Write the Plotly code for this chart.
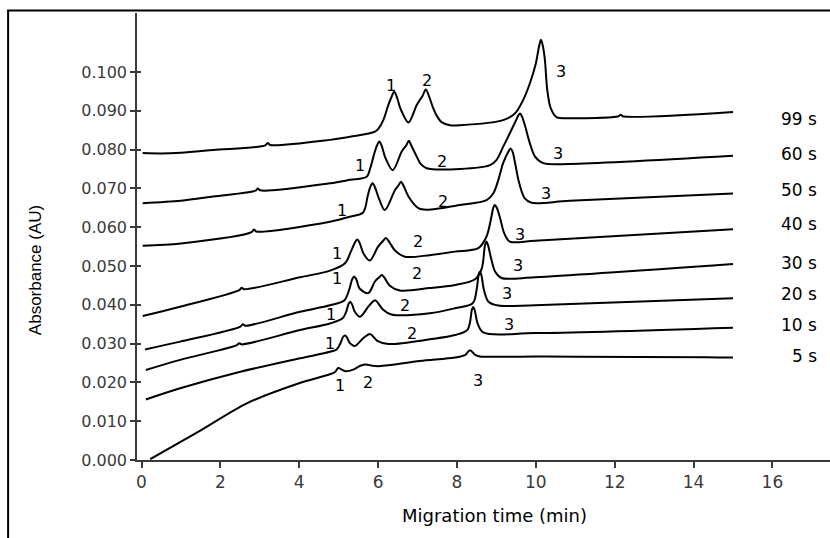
import plotly.graph_objects as go

# ---- data (migration time in min, absorbance in AU) ----
samples = ["5 s", "10 s", "20 s", "30 s", "40 s", "50 s", "60 s", "99 s"]

t_5 = [0.22, 1.48, 2.67, 3.94, 4.78, 4.90, 4.99, 5.08, 5.16, 5.37, 5.55, 5.70, 5.85, 6.05, 7.06, 7.95, 8.20, 8.33, 8.46, 8.58, 9.98, 11.03, 14.33, 15.0]
a_5 = [0.0002, 0.0075, 0.0146, 0.0196, 0.0221, 0.0226, 0.0237, 0.0233, 0.0229, 0.0233, 0.0243, 0.0246, 0.0243, 0.0242, 0.0255, 0.0264, 0.0270, 0.0283, 0.0271, 0.0267, 0.0267, 0.0266, 0.0265, 0.0264]

t_10 = [0.11, 0.98, 2.41, 4.02, 4.78, 4.95, 5.05, 5.11, 5.16, 5.21, 5.28, 5.41, 5.62, 5.73, 5.79, 5.85, 5.98, 6.26, 7.31, 7.95, 8.27, 8.38, 8.41, 8.45, 8.53, 8.68, 9.98, 15.0]
a_10 = [0.0156, 0.0185, 0.0225, 0.0262, 0.0279, 0.0285, 0.0302, 0.0317, 0.0321, 0.0316, 0.0302, 0.0294, 0.0314, 0.0322, 0.0325, 0.0321, 0.0307, 0.0299, 0.0311, 0.0322, 0.0336, 0.0388, 0.0394, 0.0386, 0.0350, 0.0328, 0.0327, 0.0341]

t_20 = [0.11, 0.98, 2.42, 2.48, 2.54, 4.02, 4.78, 5.10, 5.19, 5.25, 5.29, 5.34, 5.41, 5.54, 5.75, 5.86, 5.92, 5.98, 6.12, 6.34, 7.31, 7.95, 8.40, 8.50, 8.55, 8.58, 8.62, 8.68, 8.80, 9.05, 9.98, 15.0]
a_20 = [0.0232, 0.0258, 0.0296, 0.0301, 0.0298, 0.0335, 0.0352, 0.0365, 0.0382, 0.0402, 0.0408, 0.0401, 0.0382, 0.0369, 0.0395, 0.0408, 0.0412, 0.0407, 0.0388, 0.0375, 0.0378, 0.0391, 0.0404, 0.0440, 0.0478, 0.0485, 0.0476, 0.0440, 0.0408, 0.0398, 0.0399, 0.0417]

t_30 = [0.09, 0.98, 2.51, 2.57, 2.63, 4.02, 4.78, 5.14, 5.27, 5.34, 5.39, 5.45, 5.53, 5.75, 5.92, 6.03, 6.09, 6.16, 6.29, 6.55, 7.31, 7.95, 8.46, 8.63, 8.71, 8.75, 8.79, 8.86, 8.97, 9.13, 9.98, 15.0]
a_30 = [0.0285, 0.0305, 0.0344, 0.0350, 0.0346, 0.0382, 0.0399, 0.0411, 0.0440, 0.0465, 0.0473, 0.0465, 0.0442, 0.0430, 0.0460, 0.0471, 0.0477, 0.0470, 0.0450, 0.0437, 0.0443, 0.0451, 0.0466, 0.0494, 0.0553, 0.0563, 0.0553, 0.0522, 0.0485, 0.0469, 0.0471, 0.0505]

t_40 = [0.03, 0.98, 2.48, 2.54, 2.60, 4.02, 4.78, 5.16, 5.30, 5.41, 5.47, 5.53, 5.63, 5.79, 6.00, 6.13, 6.20, 6.27, 6.43, 6.68, 7.31, 7.95, 8.54, 8.75, 8.88, 8.92, 8.96, 9.01, 9.09, 9.20, 9.34, 9.98, 15.0]
a_40 = [0.0371, 0.0395, 0.0438, 0.0444, 0.0440, 0.0471, 0.0488, 0.0507, 0.0535, 0.0560, 0.0568, 0.0560, 0.0532, 0.0514, 0.0550, 0.0565, 0.0572, 0.0564, 0.0540, 0.0524, 0.0528, 0.0537, 0.0546, 0.0576, 0.0630, 0.0650, 0.0657, 0.0650, 0.0625, 0.0584, 0.0563, 0.0565, 0.0595]

t_50 = [0.03, 1.0, 2.79, 2.85, 2.91, 4.78, 5.29, 5.62, 5.74, 5.80, 5.86, 5.92, 6.01, 6.17, 6.42, 6.52, 6.58, 6.64, 6.77, 7.02, 7.23, 8.08, 8.75, 8.92, 9.05, 9.17, 9.31, 9.36, 9.41, 9.48, 9.58, 9.72, 9.89, 10.86, 15.0]
a_50 = [0.0552, 0.0558, 0.0587, 0.0594, 0.0589, 0.0614, 0.0627, 0.0638, 0.0682, 0.0703, 0.0713, 0.0703, 0.0677, 0.0644, 0.0694, 0.0708, 0.0717, 0.0708, 0.0679, 0.0649, 0.0645, 0.0657, 0.0670, 0.0687, 0.0722, 0.0765, 0.0796, 0.0803, 0.0795, 0.0762, 0.0713, 0.0674, 0.0663, 0.0668, 0.0687]

t_60 = [0.03, 1.0, 1.82, 2.89, 2.95, 3.01, 4.78, 5.29, 5.71, 5.80, 5.89, 5.97, 6.03, 6.09, 6.18, 6.37, 6.60, 6.72, 6.78, 6.84, 6.98, 7.08, 7.23, 8.08, 8.84, 9.00, 9.17, 9.34, 9.50, 9.55, 9.60, 9.65, 9.73, 9.85, 9.98, 10.19, 10.86, 15.0]
a_60 = [0.0662, 0.0668, 0.0679, 0.0694, 0.0700, 0.0695, 0.0713, 0.0722, 0.0730, 0.0752, 0.0785, 0.0810, 0.0821, 0.0810, 0.0780, 0.0747, 0.0795, 0.0812, 0.0823, 0.0811, 0.0782, 0.0763, 0.0752, 0.0750, 0.0760, 0.0773, 0.0807, 0.0842, 0.0876, 0.0887, 0.0893, 0.0885, 0.0860, 0.0816, 0.0782, 0.0765, 0.0763, 0.0784]

t_99 = [0.03, 0.5, 1.0, 1.82, 3.14, 3.20, 3.26, 4.78, 5.29, 5.92, 6.03, 6.14, 6.26, 6.33, 6.41, 6.49, 6.57, 6.77, 6.98, 7.13, 7.21, 7.29, 7.40, 7.50, 7.62, 7.82, 8.08, 9.17, 9.47, 9.68, 9.85, 10.00, 10.08, 10.13, 10.18, 10.23, 10.29, 10.38, 10.53, 10.86, 12.10, 12.15, 12.20, 15.0]
a_99 = [0.0791, 0.0790, 0.0792, 0.0799, 0.0811, 0.0817, 0.0812, 0.0825, 0.0833, 0.0846, 0.0857, 0.0878, 0.0915, 0.0933, 0.0949, 0.0931, 0.0905, 0.0870, 0.0915, 0.0939, 0.0955, 0.0938, 0.0906, 0.0885, 0.0870, 0.0863, 0.0863, 0.0876, 0.0893, 0.0928, 0.0971, 0.1022, 0.1065, 0.1083, 0.1066, 0.1031, 0.0954, 0.0906, 0.0883, 0.0881, 0.0886, 0.0890, 0.0886, 0.0897]

times = [t_5, t_10, t_20, t_30, t_40, t_50, t_60, t_99]
absorb = [a_5, a_10, a_20, a_30, a_40, a_50, a_60, a_99]

# sample label positions (right-aligned) and peak-number label positions
sample_label_x = 17.18
sample_label_y = [0.0267, 0.0348, 0.0428, 0.0509, 0.0608, 0.0696, 0.0789, 0.0879]

peak_names = ["1", "2", "3"]
peak_x = [
    [5.03, 5.75, 8.54],
    [4.78, 6.85, 9.33],
    [4.80, 6.68, 9.27],
    [4.95, 6.98, 9.55],
    [4.95, 7.02, 9.60],
    [5.09, 7.65, 10.27],
    [5.54, 7.61, 10.57],
    [6.32, 7.25, 10.63],
]
peak_y = [
    [0.0193, 0.0199, 0.0204],
    [0.0299, 0.0327, 0.0348],
    [0.0374, 0.0399, 0.0428],
    [0.0468, 0.0481, 0.0500],
    [0.0533, 0.0563, 0.0580],
    [0.0643, 0.0666, 0.0687],
    [0.0758, 0.0769, 0.0789],
    [0.0966, 0.0978, 0.1001],
]

x_ticks = [0, 2, 4, 6, 8, 10, 12, 14, 16]
y_ticks = [0.000, 0.010, 0.020, 0.030, 0.040, 0.050, 0.060, 0.070, 0.080, 0.090, 0.100]

X_RANGE = [-0.114, 17.46]
Y_RANGE = [0.0, 0.1152]

fig = go.Figure()

for name, tx, ay in zip(samples, times, absorb):
    fig.add_trace(go.Scatter(
        x=tx, y=ay, mode="lines", name=name,
        line=dict(color="black", width=2, shape="spline", smoothing=0.9),
        showlegend=False, hoverinfo="skip",
    ))

annotations = []
for name, y in zip(samples, sample_label_y):
    annotations.append(dict(x=sample_label_x, y=y, xref="x", yref="y", text=name,
                            showarrow=False, xanchor="right", yanchor="middle",
                            font=dict(family="DejaVu Sans", size=17, color="black")))
for xs, ys in zip(peak_x, peak_y):
    for lab, px, py in zip(peak_names, xs, ys):
        annotations.append(dict(x=px, y=py, xref="x", yref="y", text=lab,
                                showarrow=False, xanchor="center", yanchor="middle",
                                font=dict(family="DejaVu Sans", size=16, color="black")))

annotations.append(dict(x=-0.147, y=0.425, xref="paper", yref="paper", text="Absorbance (AU)",
                        showarrow=False, textangle=-90, xanchor="center", yanchor="middle",
                        font=dict(family="Liberation Sans Narrow, Liberation Sans, Arial", size=17, color="black")))
annotations.append(dict(x=0.516, y=-0.125, xref="paper", yref="paper", text="Migration time (min)",
                        showarrow=False, xanchor="center", yanchor="middle",
                        font=dict(family="DejaVu Sans", size=18, color="black")))

axis_color = "#3a3a3a"
fig.update_layout(
    width=830, height=538,
    margin=dict(l=137, r=0, t=13, b=78),
    paper_bgcolor="white", plot_bgcolor="white",
    xaxis=dict(range=X_RANGE, tickvals=x_ticks, ticktext=[str(v) for v in x_ticks],
               showgrid=False, zeroline=False, showline=True, linecolor=axis_color, linewidth=1.5,
               ticks="outside", ticklen=6, tickwidth=1.5, tickcolor=axis_color,
               tickfont=dict(family="DejaVu Sans", size=17, color="#3a3a3a")),
    yaxis=dict(range=Y_RANGE, tickvals=y_ticks, ticktext=["%.3f" % v for v in y_ticks],
               showgrid=False, zeroline=False, showline=True, linecolor=axis_color, linewidth=1.5,
               ticks="outside", ticklen=5, tickwidth=1.5, tickcolor=axis_color,
               tickfont=dict(family="DejaVu Sans", size=16, color="#3a3a3a")),
    yaxis2=dict(range=Y_RANGE, tickvals=y_ticks, overlaying="y", side="left",
                showticklabels=False, showgrid=False, zeroline=False, showline=False,
                ticks="inside", ticklen=4, tickwidth=1.5, tickcolor=axis_color),
    annotations=annotations,
    shapes=[dict(type="rect", xref="paper", yref="paper", x0=-0.186, y0=-0.3, x1=1.05, y1=1.0056,
                 line=dict(color="black", width=2), fillcolor="rgba(0,0,0,0)", layer="above")],
)
# dummy trace to activate the overlay axis carrying the inner half of the y ticks
fig.add_trace(go.Scatter(x=[None], y=[None], yaxis="y2", showlegend=False, hoverinfo="skip"))

fig.write_html("out.html")
